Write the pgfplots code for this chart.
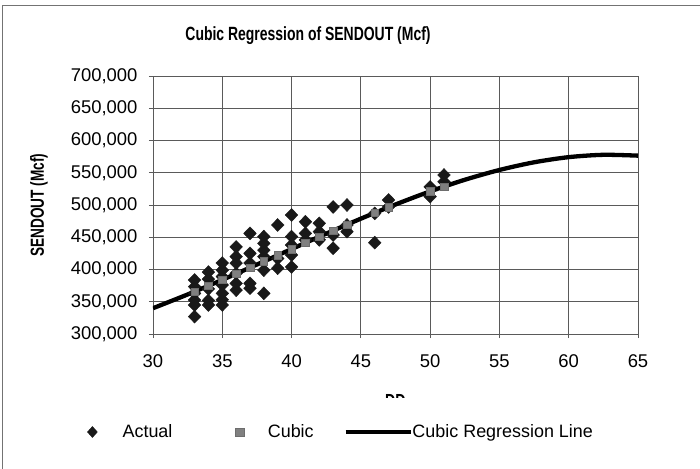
\documentclass[border=0pt]{standalone}
\usepackage{fontspec}
\setmainfont{Liberation Sans}
\usepackage{graphicx}
\usepackage{pgfplots}
\pgfplotsset{compat=1.18}
\definecolor{gridc}{RGB}{90,90,90}
\definecolor{sqc}{RGB}{128,128,128}
\begin{document}
\begin{tikzpicture}
\useasboundingbox (-153bp,-135bp) rectangle (547bp,334bp);
\draw[black!55, line width=1bp] (-150bp,-135bp) -- (-150bp,328bp) -- (547bp,328bp);
\begin{axis}[
  at={(0,0)}, anchor=south west,
  scale only axis, width=485bp, height=258bp,
  xmin=30, xmax=65, ymin=300000, ymax=700000,
  xtick={30,35,...,65}, ytick={300000,350000,...,700000},
  scaled y ticks=false,
  yticklabel style={xshift=-8bp, /pgf/number format/.cd, fixed, 1000 sep={,}},
  xticklabel style={yshift=-13bp},
  /pgf/number format/assume math mode=true,
  tick label style={font=\fontsize{18.5}{21}\selectfont},
  grid=major, major grid style={gridc, line width=0.8bp},
  axis line style={gridc, line width=0.8bp},
  tick style={gridc, line width=0.8bp},
  tick align=center, major tick length=8bp, tickpos=left,
  title={\scalebox{0.73}[1]{\bfseries Cubic Regression of SENDOUT (Mcf)}},
  title style={at={(axis description cs:0.3196,1.1318)}, anchor=center, font=\fontsize{19.2}{22}\selectfont},
  ylabel={\scalebox{0.72}[1]{\bfseries SENDOUT (Mcf)}},
  ylabel style={at={(axis description cs:-0.235,0.5)}, anchor=center, font=\fontsize{19}{22}\selectfont},
  xlabel={\scalebox{0.75}[1]{\bfseries DD}},
  xlabel style={at={(axis description cs:0.5,-0.221)}, anchor=north, font=\fontsize{19}{22}\selectfont},
  legend columns=3,
  legend style={at={(axis description cs:-0.1381,-0.3798)}, anchor=west, draw=none, fill=white,
    inner xsep=0pt, inner ysep=27bp, font=\fontsize{18}{20}\selectfont,
    nodes={inner sep=0pt},
    /tikz/column 2/.style={column sep=61bp},
    /tikz/column 4/.style={column sep=30bp}},
]
\addplot[only marks, mark=diamond*, mark size=6.5bp, mark options={xscale=1.3, fill=black!90, draw=black!90},
  legend image code/.code={\path (-6bp,0bp) (30bp,0bp); \draw[black!90,fill=black!90,mark=diamond*,mark size=5.5bp,mark options={xscale=1.2}] plot coordinates {(0bp,0bp)};}]
coordinates {
(33,383700)(33,373400)(33,363000)(33,352700)(33,345000)(33,327000)
(34,396000)(34,385000)(34,370000)(34,352000)(34,345000)
(35,410000)(35,399000)(35,389000)(35,376000)(35,363000)(35,353000)(35,345000)
(36,435000)(36,420000)(36,410000)(36,394000)(36,378500)(36,368000)
(37,456000)(37,425000)(37,410000)(37,378500)(37,371000)
(38,451000)(38,440600)(38,430000)(38,420000)(38,399000)(38,363000)
(39,469000)(39,417000)(39,402000)
(40,484500)(40,451000)(40,438000)(40,422500)(40,404000)
(41,474000)(41,456000)(41,446000)
(42,471600)(42,458700)(42,446000)
(43,497000)(43,453500)(43,433000)
(44,500000)(44,469000)(44,458700)
(46,441600)(46,487000)
(47,507800)(47,497000)
(50,528000)(50,513000)
(51,546500)(51,536000)
};
\addlegendentry{Actual}
\addplot[only marks, mark=square*, mark size=3.8bp, mark options={fill=sqc, draw=sqc!85!black},
  legend image code/.code={\path (-6bp,0bp) (28bp,0bp); \draw[sqc,fill=sqc,mark=square*,mark size=4.2bp] plot coordinates {(0bp,0bp)};}]
coordinates {
(33,365700)(34,374800)(35,384000)(36,393400)(37,402900)(38,412500)(39,422100)
(40,431700)(41,441300)(42,450900)(43,460300)(44,469600)(46,487800)(47,496500)
(50,521100)(51,528600)
};
\addlegendentry{Cubic}
\addplot[black, line width=4.3bp, smooth,
  legend image code/.code={\draw[black,line width=3.8bp] (0bp,0bp) -- (65bp,0bp);}]
coordinates {
(30,340000)(32.5,361300)(35,384000)(37.5,407700)(40,431700)(42.5,455600)(45,478800)
(47.5,500800)(50,521100)(52.5,539100)(55,554300)(57.5,566200)(60,574200)(62.5,577800)(65,576500)
};
\addlegendentry{Cubic Regression Line}
\end{axis}
\end{tikzpicture}
\end{document}
